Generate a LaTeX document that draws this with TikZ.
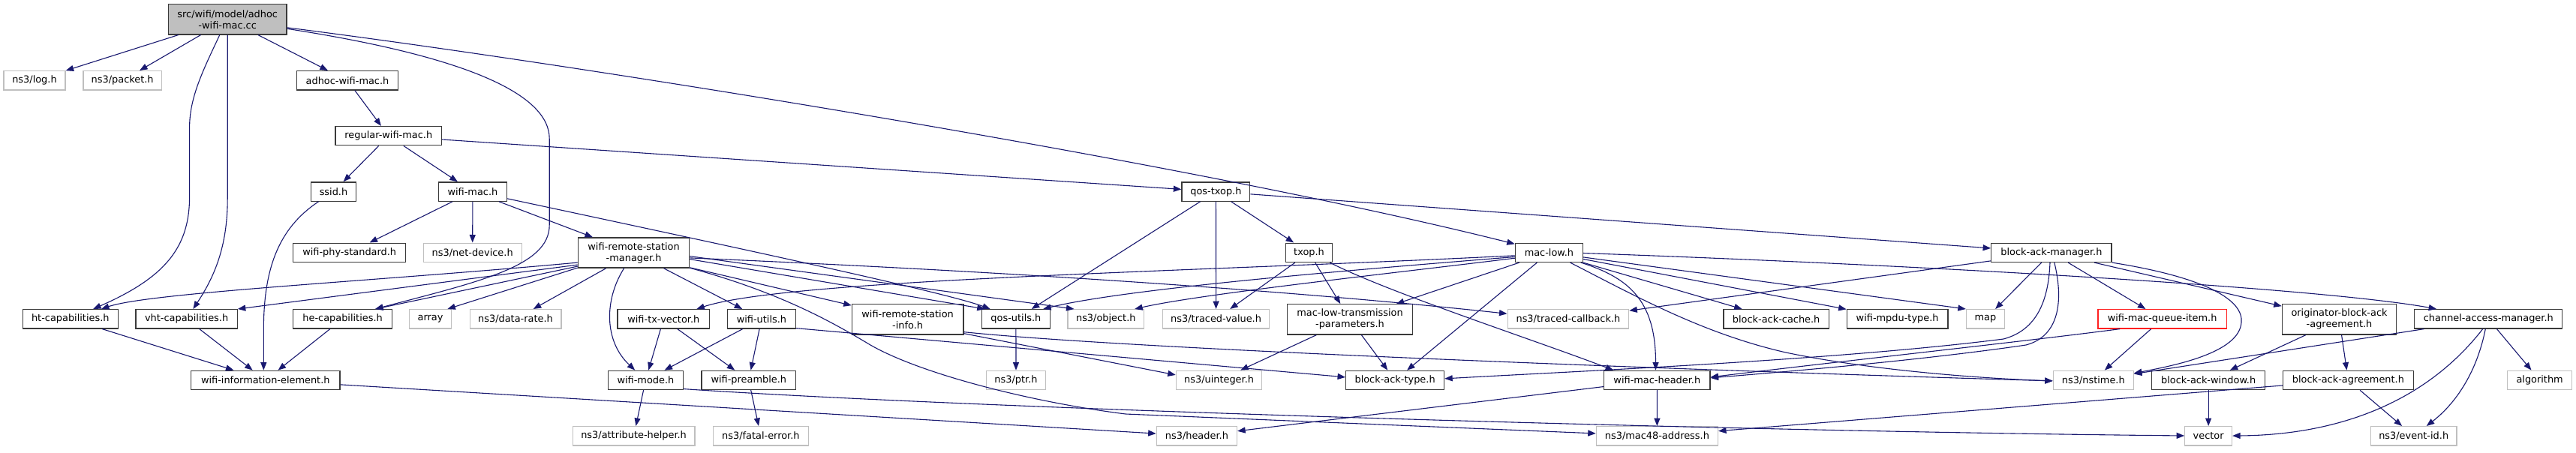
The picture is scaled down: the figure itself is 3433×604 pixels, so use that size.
\documentclass[tikz,border=0pt]{standalone}
\usepackage{fontspec}
\setmainfont{DejaVu Sans}
\usetikzlibrary{arrows.meta,calc}
\definecolor{ecol}{HTML}{191970}
\definecolor{docb}{HTML}{3A3A3A}
\definecolor{extb}{HTML}{BFBFBF}
\definecolor{redb}{HTML}{FF2020}
\begin{document}
\begin{tikzpicture}[x=1pt,y=-1pt,
  box/.style={rectangle, inner sep=0pt, minimum height=25.3pt, font=\fontsize{12.9pt}{15pt}\selectfont, line width=1.3pt, align=center},
  docnode/.style={box, draw=docb, fill=white},
  extnode/.style={box, draw=extb, fill=white},
  rednode/.style={box, draw=redb, fill=white},
  mainnode/.style={box, draw=docb, fill=extb},
  twoline/.style={minimum height=40.2pt},
  dep/.style={draw=ecol, line width=1.1pt, -{Triangle[length=10.5pt,width=8pt]}}
]
\fill[white] (0,0) rectangle (3433,604);
\useasboundingbox (0,0) rectangle (3433,604);

% ---------- nodes ----------
\node[mainnode, twoline, minimum width=157.3pt] (main) at (303.2,25.8) {src/wifi/model/adhoc\\-wifi-mac.cc};
\node[extnode, minimum width=82pt] (log) at (46,107.3) {ns3/log.h};
\node[extnode, minimum width=104.5pt] (packet) at (163.2,107.3) {ns3/packet.h};
\node[docnode, minimum width=135.4pt] (adhoc) at (463,107.3) {adhoc-wifi-mac.h};
\node[docnode, minimum width=141.5pt] (regular) at (517.8,181.2) {regular-wifi-mac.h};
\node[docnode, minimum width=60.1pt] (ssid) at (444.5,255.5) {ssid.h};
\node[docnode, minimum width=90.7pt] (wifimac) at (629.9,255.5) {wifi-mac.h};
\node[docnode, minimum width=90.7pt] (qostxop) at (1620.4,255.5) {qos-txop.h};
\node[docnode, minimum width=150pt] (phystd) at (465.7,336.8) {wifi-phy-standard.h};
\node[extnode, minimum width=130.9pt] (netdev) at (629.7,336.8) {ns3/net-device.h};
\node[docnode, twoline, minimum width=148.1pt] (wrsm) at (844.6,337) {wifi-remote-station\\-manager.h};
\node[docnode, minimum width=62.4pt] (txop) at (1744.5,336.8) {txop.h};
\node[docnode, minimum width=90pt] (maclow) at (2064.4,336.8) {mac-low.h};
\node[docnode, minimum width=160.3pt] (bam) at (2733.9,336.8) {block-ack-manager.h};

\node[docnode, minimum width=127.1pt] (htcap) at (93.8,425.3) {ht-capabilities.h};
\node[docnode, minimum width=135.1pt] (vhtcap) at (248.6,425.3) {vht-capabilities.h};
\node[docnode, minimum width=131.7pt] (hecap) at (456.6,425.3) {he-capabilities.h};
\node[extnode, minimum width=56.4pt] (array) at (573.5,425.3) {array};
\node[extnode, minimum width=121.7pt] (datarate) at (687,425.3) {ns3/data-rate.h};
\node[docnode, minimum width=122.8pt] (txvec) at (884.3,425.3) {wifi-tx-vector.h};
\node[docnode, minimum width=90.7pt] (wutils) at (1014.9,425.3) {wifi-utils.h};
\node[docnode, twoline, minimum width=148.5pt] (wrsi) at (1209.6,425.9) {wifi-remote-station\\-info.h};
\node[docnode, minimum width=91.1pt] (qosutils) at (1353.9,425.3) {qos-utils.h};
\node[extnode, minimum width=101.4pt] (object) at (1473.8,425.3) {ns3/object.h};
\node[extnode, minimum width=142.3pt] (tracedval) at (1620.6,425.3) {ns3/traced-value.h};
\node[docnode, twoline, minimum width=167.6pt] (mltp) at (1799,425.9) {mac-low-transmission\\-parameters.h};
\node[extnode, minimum width=161.5pt] (tracedcb) at (2089.9,425.3) {ns3/traced-callback.h};
\node[docnode, minimum width=140.1pt] (bacache) at (2367.1,425.3) {block-ack-cache.h};
\node[docnode, minimum width=134.7pt] (mpdutype) at (2528.6,425.3) {wifi-mpdu-type.h};
\node[extnode, minimum width=50.9pt] (map) at (2645.9,425.3) {map};
\node[rednode, minimum width=171.1pt] (queueitem) at (2881.6,425.3) {wifi-mac-queue-item.h};
\node[docnode, twoline, minimum width=152.2pt] (orig) at (3117.5,425.9) {originator-block-ack\\-agreement.h};
\node[docnode, minimum width=197pt] (cam) at (3316.3,425.3) {channel-access-manager.h};

\node[docnode, minimum width=198.6pt] (wie) at (353.8,506.9) {wifi-information-element.h};
\node[docnode, minimum width=100.2pt] (wmode) at (860.4,506.9) {wifi-mode.h};
\node[docnode, minimum width=125.6pt] (wpreamble) at (997.8,506.9) {wifi-preamble.h};
\node[extnode, minimum width=78.4pt] (ptr) at (1354,506.9) {ns3/ptr.h};
\node[extnode, minimum width=114.4pt] (uinteger) at (1624.6,506.9) {ns3/uinteger.h};
\node[docnode, minimum width=130.8pt] (batype) at (1859.1,506.9) {block-ack-type.h};
\node[docnode, minimum width=141.2pt] (wmacheader) at (2208.3,506.9) {wifi-mac-header.h};
\node[extnode, minimum width=106.9pt] (nstime) at (2789.8,506.9) {ns3/nstime.h};
\node[docnode, minimum width=150.6pt] (bawindow) at (2943.1,506.9) {block-ack-window.h};
\node[docnode, minimum width=173.6pt] (baagree) at (3129.4,506.9) {block-ack-agreement.h};
\node[extnode, minimum width=85.6pt] (algorithm) at (3384.6,506.9) {algorithm};

\node[extnode, minimum width=162.7pt] (attrhelper) at (844.6,581.3) {ns3/attribute-helper.h};
\node[extnode, minimum width=127.1pt] (fatal) at (1013.9,581.3) {ns3/fatal-error.h};
\node[extnode, minimum width=107.2pt] (header) at (1594.9,581.3) {ns3/header.h};
\node[extnode, minimum width=162pt] (mac48) at (2208.4,581.3) {ns3/mac48-address.h};
\node[extnode, minimum width=62.6pt] (vector) at (2943.1,581.3) {vector};
\node[extnode, minimum width=114.7pt] (eventid) at (3216.7,581.3) {ns3/event-id.h};

% ---------- edges ----------
% main
\draw[dep] (main) -- (log);
\draw[dep] (main) -- (packet);
\draw[dep] ($(main.south)+(-10.4,0)$) .. controls (270,95) and (252.6,130) .. (252.6,170) -- (252.6,262) .. controls (252.6,330) and (220,370) .. (htcap);
\draw[dep] (main.south) -- (303.2,265) .. controls (303.2,330) and (285,370) .. (vhtcap);
\draw[dep] (main) -- (adhoc);
\draw[dep] ($(main.east)+(0,12.5)$) .. controls (620,75) and (732.2,125) .. (732.2,185) -- (732.2,300) .. controls (732.2,355) and (640,375) .. ($(hecap.north east)+(-23,0)$);
\draw[dep] ($(main.east)+(0,11)$) .. controls (800,90) and (1600,220) .. (maclow);
% adhoc / regular
\draw[dep] (adhoc) -- (regular);
\draw[dep] (regular) -- (ssid);
\draw[dep] (regular) -- (wifimac);
\draw[dep] (regular) -- (qostxop);
\draw[dep] (ssid) .. controls (370,305) and (351.3,360) .. (351.3,440) -- ($(wie.north)+(-2.5,0)$);
% wifi-mac
\draw[dep] (wifimac) -- (phystd);
\draw[dep] (wifimac) -- (netdev);
\draw[dep] (wifimac) -- (wrsm);
\draw[dep] ($(wifimac.south east)+(0,-4)$) .. controls (1000,334) and (1260,390) .. ($(qosutils.north west)+(12,0)$);
% wifi-remote-station-manager
\draw[dep] ($(wrsm.south west)+(0,-7.7)$) .. controls (500,375) and (200,390) .. ($(htcap.north east)+(-23,0)$);
\draw[dep] ($(wrsm.south west)+(0,-4.7)$) -- (vhtcap.north east);
\draw[dep] ($(wrsm.south west)+(0,-2.7)$) -- ($(hecap.north east)+(-23,0)$);
\draw[dep] ($(wrsm.south west)+(0,-0.7)$) -- ($(array.north east)+(-6,0)$);
\draw[dep] (wrsm) -- (datarate);
\draw[dep] (wrsm) .. controls (805,400) and (805,455) .. (wmode);
\draw[dep] (wrsm) -- (wutils);
\draw[dep] ($(wrsm.south east)+(0,-1)$) -- ($(wrsi.north west)+(0,2)$);
\draw[dep] ($(wrsm.east)+(0,8.6)$) -- ($(qosutils.north west)+(5,0)$);
\draw[dep] ($(wrsm.east)+(0,4.6)$) -- ($(object.north west)+(9,0)$);
\draw[dep] ($(wrsm.east)+(0,6.9)$) .. controls (1300,360) and (1700,385) .. ($(tracedcb.west)+(0,-7)$);
\draw[dep] ($(wrsm.south east)+(0,-0.5)$) .. controls (1040,390) and (1110,430) .. (1160,460) .. controls (1230,500) and (1380,537) .. (1500,552) -- (mac48);
% tx vector, utils, station info
\draw[dep] (txvec) -- (wmode);
\draw[dep] (txvec) -- (wpreamble);
\draw[dep] (wutils) -- (wmode);
\draw[dep] (wutils) -- (wpreamble);
\draw[dep] ($(wutils.south east)+(0,-1)$) -- ($(batype.west)+(0,-4)$);
\draw[dep] ($(wrsi.south east)+(0,-2)$) -- ($(uinteger.west)+(0,-7)$);
\draw[dep] ($(wrsi.south east)+(0,-4)$) .. controls (1500,465) and (2200,492) .. ($(nstime.west)+(0,1)$);
% mode, preamble, information element
\draw[dep] (wmode) -- (attrhelper);
\draw[dep] ($(wmode.east)+(0,11.7)$) .. controls (1300,545) and (2300,575) .. (vector);
\draw[dep] (wpreamble) -- (fatal);
\draw[dep] (wie) -- (header);
\draw[dep] (htcap) -- (wie);
\draw[dep] (vhtcap) -- (wie);
\draw[dep] (hecap) -- (wie);
\draw[dep] (qosutils) -- (ptr);
% qos-txop, txop
\draw[dep] (qostxop) -- (qosutils);
\draw[dep] (qostxop) -- (tracedval);
\draw[dep] (qostxop) -- (txop);
\draw[dep] (qostxop) -- (bam);
\draw[dep] (txop) -- (tracedval);
\draw[dep] (txop) -- (mltp);
\draw[dep] ($(txop.south east)+(-4,0)$) .. controls (1850,390) and (2050,455) .. ($(wmacheader.north west)+(13,0)$);
% mac-low
\draw[dep] ($(maclow.west)+(0,4)$) .. controls (1600,362) and (1050,372) .. ($(txvec.north east)+(-18,0)$);
\draw[dep] ($(maclow.west)+(0,5.7)$) .. controls (1800,360) and (1500,385) .. ($(qosutils.north east)+(-10,0)$);
\draw[dep] ($(maclow.west)+(0,7.4)$) .. controls (1850,365) and (1600,392) .. ($(object.north east)+(-13,0)$);
\draw[dep] (maclow) -- (mltp);
\draw[dep] (maclow) -- (batype);
\draw[dep] (maclow) .. controls (2170,370) and (2206.5,400) .. ($(wmacheader.north)+(-1.8,0)$);
\draw[dep] (maclow) -- (bacache);
\draw[dep] (maclow) -- (mpdutype);
\draw[dep] (maclow) -- (map.north west);
\draw[dep] ($(maclow.south east)+(-17.5,0)$) .. controls (2180,395) and (2270,445) .. (2380,470) .. controls (2500,495) and (2650,505) .. ($(nstime.west)+(0,1)$);
\draw[dep] ($(maclow.east)+(0,0.7)$) .. controls (2600,355) and (3100,385) .. ($(cam.north west)+(30,0)$);
% mac-low-transmission-parameters, header
\draw[dep] (mltp) -- (uinteger);
\draw[dep] (mltp) -- (batype);
\draw[dep] (wmacheader) -- (mac48);
\draw[dep] (wmacheader) -- (header);
% block-ack-manager
\draw[dep] (bam) -- (tracedcb);
\draw[dep] (bam) -- (map);
\draw[dep] ($(bam.south)+(-1.9,0)$) .. controls (2730,400) and (2715,440) .. (2670,452) .. controls (2450,480) and (2100,495) .. ($(batype.east)+(0,-2)$);
\draw[dep] ($(bam.south)+(3.9,0)$) .. controls (2750,400) and (2745,448) .. (2700,460) .. controls (2550,482) and (2350,498) .. ($(wmacheader.east)+(0,-3)$);
\draw[dep] (bam) -- (queueitem);
\draw[dep] (bam) -- (orig);
\draw[dep] (bam.south east) .. controls (2940,370) and (2990,400) .. (2987,430) .. controls (2984,470) and (2900,487) .. ($(nstime.north east)+(0,4)$);
% queue item, originator, agreement, window
\draw[dep] (queueitem) -- (nstime);
\draw[dep] ($(queueitem.south west)+(29.8,0)$) .. controls (2700,455) and (2450,482) .. ($(wmacheader.east)+(0,-4)$);
\draw[dep] (orig) -- (bawindow);
\draw[dep] (orig) -- (baagree);
\draw[dep] (bawindow) -- (vector);
\draw[dep] (baagree) -- (eventid);
\draw[dep] (baagree) -- (mac48);
% channel-access-manager
\draw[dep] (cam) -- (nstime);
\draw[dep] ($(cam.south)+(-7.6,0)$) .. controls (3230,540) and (3110,580) .. (vector);
\draw[dep] ($(cam.south)+(-4,0)$) .. controls (3300,500) and (3270,540) .. ($(eventid.north)+(17,0)$);
\draw[dep] (cam) -- (algorithm);
\end{tikzpicture}
\end{document}
